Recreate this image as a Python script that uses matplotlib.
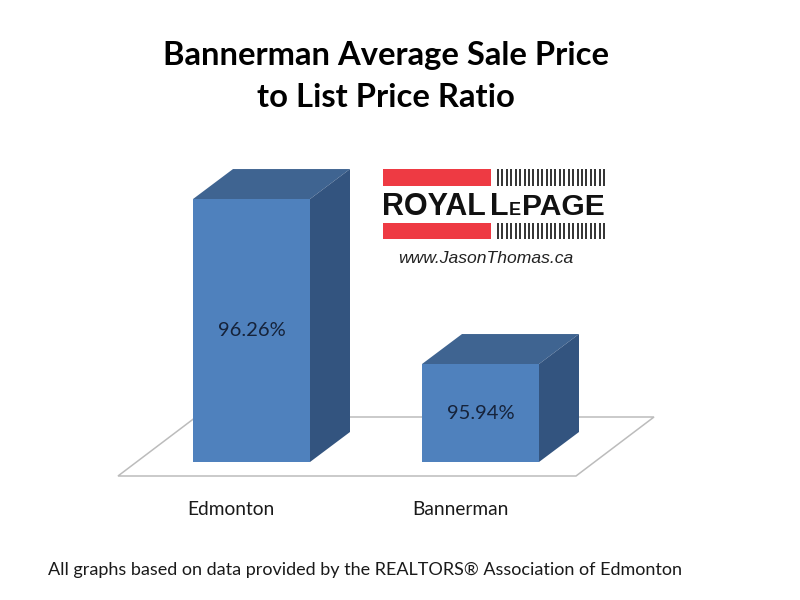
import matplotlib
matplotlib.use("Agg")
import matplotlib.pyplot as plt
from matplotlib.patches import Polygon, Rectangle

# values
categories = ["Edmonton", "Bannerman"]
ratios = [96.26, 95.94]
ratio_labels = ["96.26%", "95.94%"]
base_value = 95.75

title_text = "Bannerman Average Sale Price\nto List Price Ratio"
footer_text = "All graphs based on data provided by the REALTORS® Association of Edmonton"
website_text = "www.JasonThomas.ca"

FONT = "Lato"
FRONT = "#4f81bd"
TOP = "#3f6491"
SIDE = "#33547f"
INK = "#1a1a1a"

# scale of the chart, in pixels of the 800x600 figure
PX_PER_CATEGORY = 229
PX_PER_UNIT = 515.6
FIRST_BAR_X = 251.5
BASE_Y = 462
BAR_PX = 117
DEPTH_X_PX = 40
DEPTH_Y_PX = 30

fig = plt.figure(figsize=(8, 6), dpi=100, facecolor="white")

# pixel layer for floor, title, logo and footer
bg = fig.add_axes([0, 0, 1, 1], zorder=0)
bg.set_xlim(0, 800)
bg.set_ylim(600, 0)
bg.axis("off")

# chart layer, the bars go through its scales
ax = fig.add_axes([0, 0, 1, 1], zorder=1)
ax.patch.set_alpha(0)
ax.axis("off")
ax.set_xlim(-FIRST_BAR_X / PX_PER_CATEGORY, (800 - FIRST_BAR_X) / PX_PER_CATEGORY)
ax.set_ylim(base_value - (600 - BASE_Y) / PX_PER_UNIT, base_value + BASE_Y / PX_PER_UNIT)

# floor
bg.add_patch(Polygon([(118, 476), (576, 476), (654, 417), (196, 417)],
                     closed=True, facecolor="white", edgecolor="#bcbcbc", linewidth=1.1))

bar_w = BAR_PX / PX_PER_CATEGORY
dx = DEPTH_X_PX / PX_PER_CATEGORY
dy = DEPTH_Y_PX / PX_PER_UNIT

for i, (name, v, lab) in enumerate(zip(categories, ratios, ratio_labels)):
    left = i - bar_w / 2
    right = i + bar_w / 2
    ax.bar(i, v - base_value, bottom=base_value, width=bar_w, color=FRONT, linewidth=0, zorder=3)
    ax.add_patch(Polygon([(left, v), (right, v), (right + dx, v + dy), (left + dx, v + dy)],
                         closed=True, facecolor=TOP, linewidth=0, zorder=2))
    ax.add_patch(Polygon([(right, base_value), (right + dx, base_value + dy),
                          (right + dx, v + dy), (right, v)],
                         closed=True, facecolor=SIDE, linewidth=0, zorder=2))
    ax.text(i, (v + base_value) / 2, lab, ha="center", va="center", fontsize=14.5,
            family=FONT, color="#16233a", zorder=4)
    ax.annotate(name, (i, base_value), xytext=(-14.5, -34.5), textcoords="offset points",
                ha="center", va="center", fontsize=13.8, family=FONT, color=INK)

# title
bg.text(386, 76.5, title_text, ha="center", va="center", fontsize=23.6, fontweight="bold",
        family=FONT, color="black", linespacing=1.52)

# logo
for y0, y1 in [(169, 186), (223, 239)]:
    bg.add_patch(Rectangle((383, y0), 108, y1 - y0, facecolor="#ee3a43", linewidth=0))
    bg.vlines([498 + 4.42 * k for k in range(25)], y0, y1, color="#222222", linewidth=1.3)

logo = dict(ha="left", va="baseline", fontweight="bold", family="Liberation Sans", color="#111111")
bg.text(382, 215, "ROYAL", fontsize=22, **logo)
bg.text(490, 215, "L", fontsize=22, **logo)
bg.text(509, 215, "E", fontsize=13, **logo)
bg.text(522.5, 215, "PAGE", fontsize=21.6, **logo)
bg.text(398, 263, website_text, ha="left", va="baseline", fontsize=12.6, style="italic",
        family="Liberation Sans", color="#222222")

# footer
bg.text(48, 570, footer_text, ha="left", va="center", fontsize=12.95, family=FONT, color=INK)

fig.savefig("out.png", dpi=100, facecolor="white")
